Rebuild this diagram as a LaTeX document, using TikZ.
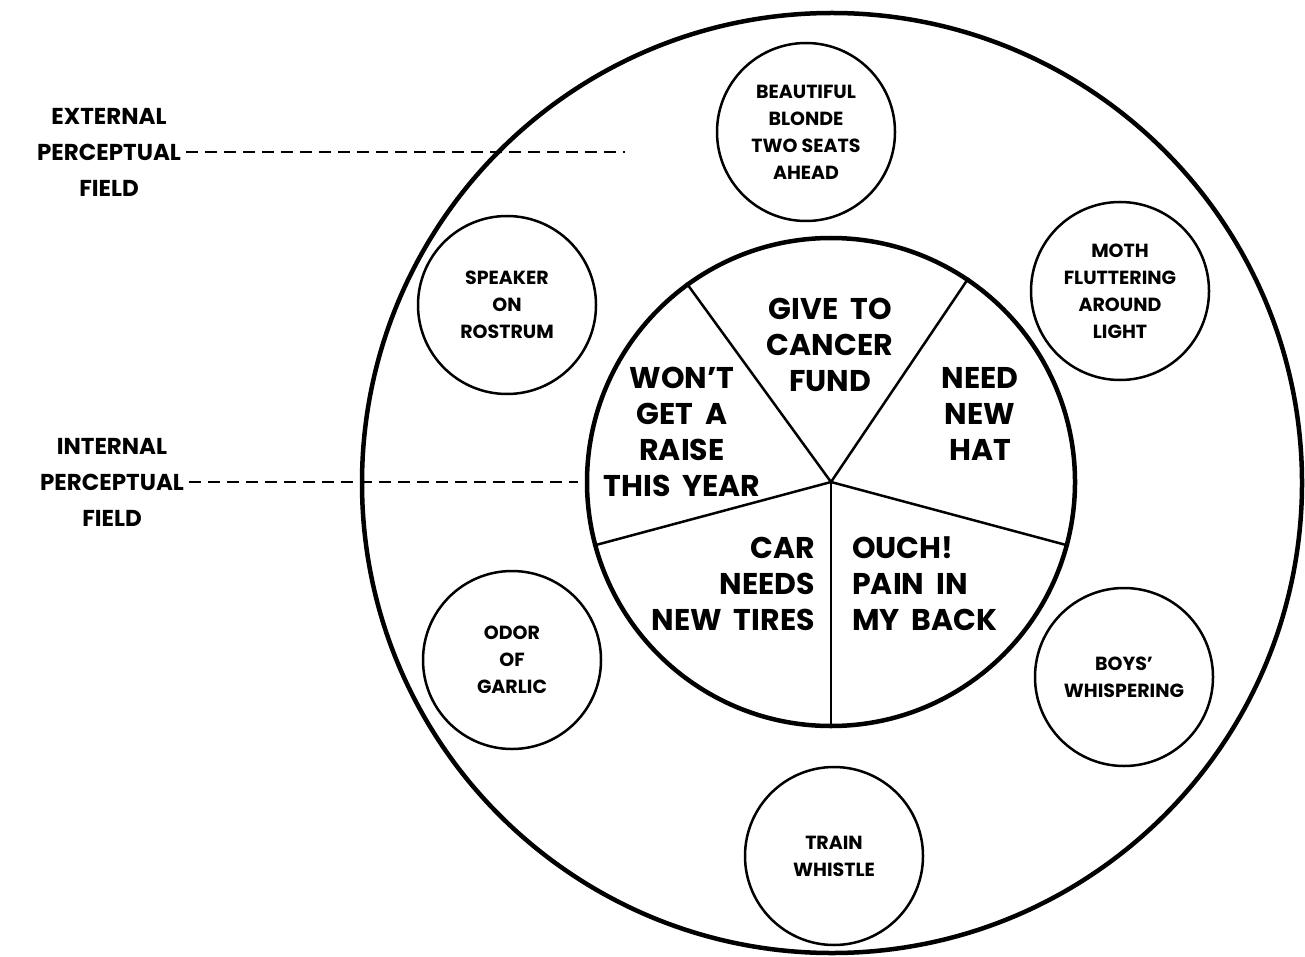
\documentclass[tikz,border=0pt]{standalone}
\usepackage{fontspec}
\setmainfont{Poppins}
\newcommand{\tick}{{\char"27}}
\newcommand{\widewords}{\spaceskip=0.4em plus 0.1em\relax}
\begin{document}
\begin{tikzpicture}[x=1pt,y=-1pt,
  field/.style={circle,draw,line width=4.5pt,inner sep=0pt},
  core/.style={circle,draw,line width=4.5pt,inner sep=0pt,minimum size=488pt},
  percept/.style={circle,draw,line width=2.5pt,inner sep=0pt,minimum size=178pt,
    align=center,font=\fontsize{19}{27}\selectfont\bfseries},
  wish/.style={align=center,font=\fontsize{30}{36}\selectfont\bfseries\widewords,inner sep=0pt},
  sidelabel/.style={align=center,font=\fontsize{23}{36}\selectfont\bfseries,inner sep=0pt},
  spoke/.style={line width=2.5pt},
  pointer/.style={line width=2.5pt,dash pattern=on 12pt off 7pt}]
\useasboundingbox (0,0) rectangle (1305,957);

% outer (external) and inner (internal) fields
\node[field,minimum size=940pt] (outer) at (832,483) {};
\node[core] (inner) at (831,482) {};

% the five sectors of the internal field
\draw[spoke] (inner.center) -- (inner.126);
\draw[spoke] (inner.center) -- (inner.56);
\draw[spoke] (inner.center) -- (inner.-15);
\draw[spoke] (inner.center) -- (inner.-90);
\draw[spoke] (inner.center) -- (inner.195);

\node[wish] (cancer) at (830,345) {GIVE TO\\CANCER\\FUND};
\node[wish] (raise) at (682,432) {WON\tick T\\GET A\\RAISE\\THIS YEAR};
\node[wish] (hat) at (980,414) {NEED\\NEW\\HAT};
\node[wish,align=right,anchor=east] (tires) at (815,584) {CAR\\NEEDS\\NEW TIRES};
\node[wish,align=left,anchor=west] (back) at (852,584) {OUCH!\\PAIN IN\\MY BACK};

% items of the external field
\node[percept] (blonde) at (806,132) {BEAUTIFUL\\BLONDE\\TWO SEATS\\AHEAD};
\node[percept] (moth) at (1120,291) {MOTH\\FLUTTERING\\AROUND\\LIGHT};
\node[percept] (speaker) at (507,305) {SPEAKER\\ON\\ROSTRUM};
\node[percept] (garlic) at (512,660) {ODOR\\OF\\GARLIC};
\node[percept] (boys) at (1124,677) {BOYS’\\WHISPERING};
\node[percept] (train) at (834,856) {TRAIN\\WHISTLE};

% side labels with their pointers
\node[sidelabel] (extlabel) at (109,152) {EXTERNAL\\PERCEPTUAL\\FIELD};
\node[sidelabel] (intlabel) at (112,482) {INTERNAL\\PERCEPTUAL\\FIELD};
\coordinate (extend) at (625,152);
\coordinate (intend) at (578,482);
\draw[pointer] ([xshift=5pt]extlabel.east) -- (extend);
\draw[pointer] ([xshift=5pt]intlabel.east) -- (intend);
\end{tikzpicture}
\end{document}
